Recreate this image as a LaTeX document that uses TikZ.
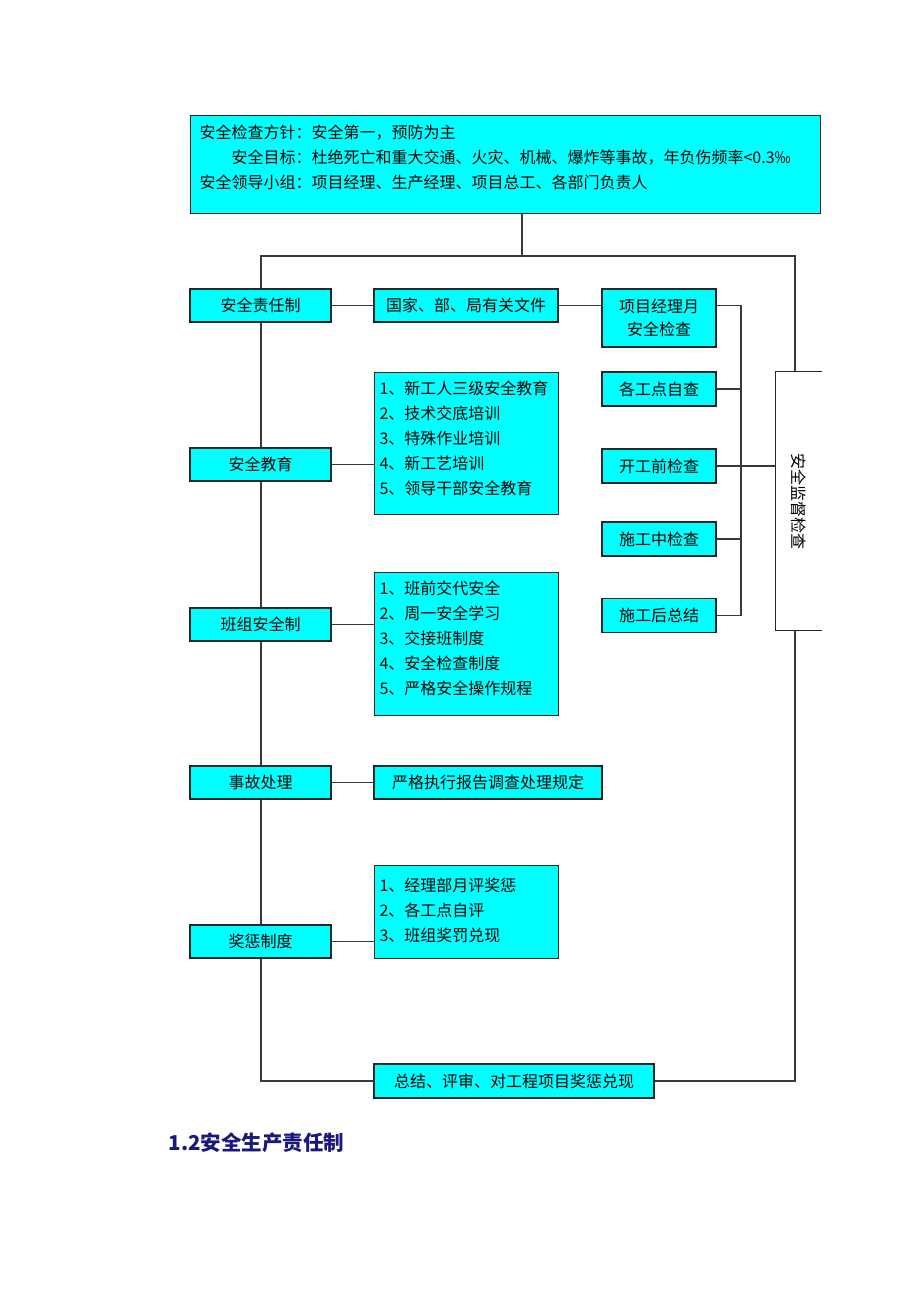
\documentclass[tikz,border=0pt]{standalone}
\usepackage{fontspec}
\setmainfont{Noto Sans CJK SC}
\usepackage{tikz}
\usetikzlibrary{positioning}
\definecolor{boxcyan}{RGB}{0,255,255}
\definecolor{linegray}{RGB}{60,54,62}
\definecolor{headblue}{RGB}{25,25,125}
\newcommand{\toplist}[3]{\parbox[c][#1][t]{#2}{#3}}
\tikzset{
  box/.style={rectangle,draw=black!85,fill=boxcyan,line width=1.2pt,inner sep=0pt,
    minimum height=33pt,align=center,font=\fontsize{16}{25}\selectfont},
  listbox/.style={box,anchor=north west,inner xsep=5pt,inner ysep=8pt},
  conn/.style={draw=linegray,line width=1.3pt}
}

\begin{document}
\begin{tikzpicture}[x=1pt,y=-1pt]
    \useasboundingbox (0,0) rectangle (920,1302);
    % policy box
    \node (policy) at (190,115) [listbox,inner xsep=9pt,inner ysep=9pt] {\toplist{80pt}{612pt}{%
      安全检查方针：安全第一，预防为主\\
      \hspace*{2em}安全目标：杜绝死亡和重大交通、火灾、机械、爆炸等事故，年负伤频率<0.3‰\\
      安全领导小组：项目经理、生产经理、项目总工、各部门负责人}};
    % left column
    \node (resp)   at (260.5,305.5) [box,minimum width=141pt] {安全责任制};
    \node (edu)    at (260.5,464.5) [box,minimum width=141pt] {安全教育};
    \node (team)   at (260.5,624.5) [box,minimum width=141pt] {班组安全制};
    \node (acc)    at (260.5,782.5) [box,minimum width=141pt] {事故处理};
    \node (reward) at (260.5,941.5) [box,minimum width=141pt] {奖惩制度};
    % middle column
    \node (docs)    at (466,305.5) [box,minimum width=184pt] {国家、部、局有关文件};
    \node (edulist) at (374,372) [listbox] {\toplist{126pt}{174pt}{%
      1、新工人三级安全教育\\2、技术交底培训\\3、特殊作业培训\\4、新工艺培训\\5、领导干部安全教育}};
    \node (teamlist) at (374,572) [listbox] {\toplist{127pt}{174pt}{%
      1、班前交代安全\\2、周一安全学习\\3、交接班制度\\4、安全检查制度\\5、严格安全操作规程}};
    \node (accrule) at (488,782.5) [box,minimum width=228pt] {严格执行报告调查处理规定};
    \node (rewlist) at (374,865) [listbox,inner ysep=12pt] {\toplist{69pt}{174pt}{%
      1、经理部月评奖惩\\2、各工点自评\\3、班组奖罚兑现}};
    \node (summary) at (514,1081) [box,minimum width=280pt,minimum height=34pt] {总结、评审、对工程项目奖惩兑现};
    % right column
    \node (pmcheck)  at (659,318) [box,minimum width=114pt,minimum height=58pt,font=\fontsize{16}{23}\selectfont] {项目经理月\\安全检查};
    \node (selfc)    at (659,389) [box,minimum width=114pt,minimum height=34pt] {各工点自查};
    \node (prec)     at (659,466) [box,minimum width=114pt,minimum height=34pt] {开工前检查};
    \node (midc)     at (659,539) [box,minimum width=114pt,minimum height=34pt] {施工中检查};
    \node (postc)    at (659,615.5) [box,minimum width=114pt,minimum height=34pt] {施工后总结};
    \node (superv)   at (799,501) [rectangle,fill=white,minimum width=46pt,minimum height=258pt,inner sep=0pt,
                                   font=\fontsize{16}{25}\selectfont] {\rotatebox{-90}{安全监督检查}};
    \draw[draw=black!85,line width=1.2pt] (superv.north east) -- (superv.north west) -- (superv.south west) -- (superv.south east);
    % frame
    \coordinate (tj) at (522,256);
    \coordinate (tl) at (261,256);
    \coordinate (tr) at (795,256);
    \coordinate (bl) at (261,1081);
    \coordinate (br) at (795,1081);
    \coordinate (bk) at (741,305.5);
    \draw[conn] (tj |- policy.south) -- (tj);
    \draw[conn] (resp.north -| tl) -- (tl) -- (tr) -- (tr |- superv.north);
    \draw[conn] (tr |- superv.south) -- (br) -- (summary.east);
    \draw[conn] (summary.west) -- (bl) -- (reward.south -| bl);
    \draw[conn] (reward.north -| bl) -- (acc.south -| bl);
    \draw[conn] (acc.north -| bl) -- (team.south -| bl);
    \draw[conn] (team.north -| bl) -- (edu.south -| bl);
    \draw[conn] (edu.north -| bl) -- (resp.south -| bl);
    % branches
    \draw[conn] (resp.east) -- (docs.west);
    \draw[conn] (docs.east) -- (docs.east -| pmcheck.west);
    \draw[conn] (edu.east) -- (edu.east -| edulist.west);
    \draw[conn] (team.east) -- (team.east -| teamlist.west);
    \draw[conn] (acc.east) -- (accrule.west);
    \draw[conn] (reward.east) -- (reward.east -| rewlist.west);
    % check bracket
    \draw[conn] (bk -| pmcheck.east) -- (bk) -- (bk |- postc.east) -- (postc.east);
    \draw[conn] (selfc.east) -- (bk |- selfc.east);
    \draw[conn] (midc.east) -- (bk |- midc.east);
    \draw[conn] (prec.east) -- (prec.east -| superv.west);
    % heading
    \node (heading) at (165,1143) [anchor=west,text=headblue,font=\fontsize{20.5}{24}\selectfont\bfseries] {1.2安全生产责任制};
\end{tikzpicture}
\end{document}
